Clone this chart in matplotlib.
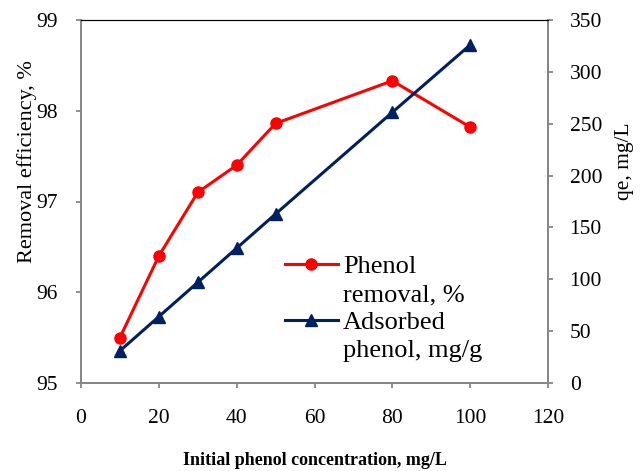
import matplotlib.pyplot as plt
from matplotlib.lines import Line2D

plt.rcParams['font.family'] = ['Liberation Serif', 'DejaVu Serif']

conc = [10, 20, 30, 40, 50, 80, 100]
removal = [95.5, 96.4, 97.1, 97.4, 97.86, 98.33, 97.82]
adsorbed = [31, 64, 97, 130, 163, 261, 326]

red = '#ff0000'
navy = '#002060'
gray = '#868686'

fig = plt.figure(figsize=(6.42, 4.71), dpi=100)
ax = fig.add_axes([81/642, 1 - 383/471, 467/642, 363/471])
ax2 = ax.twinx()

ax.plot(conc, removal, color=red, lw=2.2, marker='o', ms=8, zorder=3)
ax2.plot(conc, adsorbed, color=navy, lw=2.2, marker='^', ms=8, zorder=3)

ax.set_xlim(0, 120)
ax.set_ylim(95, 99)
ax2.set_ylim(0, 350)
ax.set_xticks(range(0, 121, 20))
ax.set_yticks([95, 96, 97, 98, 99])
ax2.set_yticks(range(0, 351, 50))

for a in (ax, ax2):
    for s in ('left', 'right', 'bottom'):
        a.spines[s].set_color(gray)
        a.spines[s].set_linewidth(1.3)
    a.spines['top'].set_color('black')
    a.tick_params(direction='out', color=gray, width=1.3, length=3.6, labelsize=15.5)

ax.tick_params(axis='x', pad=15)
ax.tick_params(axis='y', pad=13)
ax2.tick_params(axis='y', pad=12)

ax.set_ylabel('Removal efficiency, %', fontsize=16)
ax.yaxis.set_label_coords(-0.094, 0.61)
ax2.set_ylabel('qe, mg/L', fontsize=15.5)
ax2.yaxis.set_label_coords(1.144, 0.61)
ax.set_xlabel('Initial phenol concentration, mg/L', fontsize=13, fontweight='bold')
ax.xaxis.set_label_coords(0.5, -0.19)

blank = Line2D([], [], lw=0)
handles = [Line2D([], [], color=red, lw=2.2, marker='o', ms=8), blank,
           Line2D([], [], color=navy, lw=2.2, marker='^', ms=8), blank]
labels = ['Phenol', 'removal, %', 'Adsorbed', 'phenol, mg/g']
ax.legend(handles, labels,
          loc='upper left', bbox_to_anchor=(285/642, 1 - 255/471),
          bbox_transform=fig.transFigure, frameon=False, fontsize=19,
          handlelength=2.0, handletextpad=0.2, labelspacing=0.17,
          borderaxespad=0, borderpad=0)

fig.savefig('out.png', dpi=100)
